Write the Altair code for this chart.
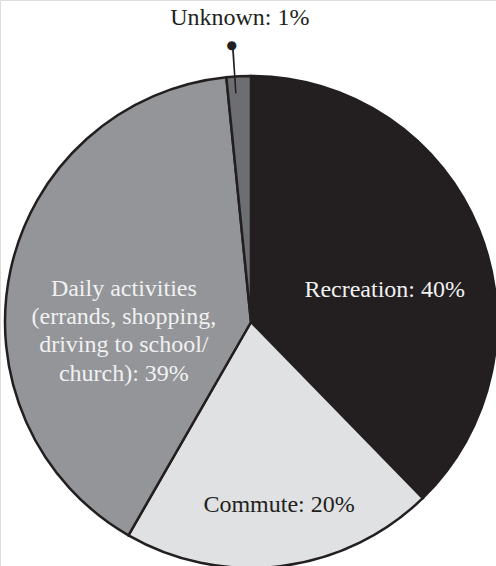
import altair as alt
import pandas as pd

# ---- data ----
categories = ["Recreation", "Commute", "Daily activities", "Unknown"]
shares = [37.7, 20.6, 40.1, 1.6]          # slice sizes as drawn (percent of circle)
labels = [
    "Recreation: 40%",
    "Commute: 20%",
    "Daily activities\n(errands, shopping,\ndriving to school/\nchurch): 39%",
    "Unknown: 1%",
]
fill_colors = ["#231f20", "#e0e1e3", "#939598", "#6d6e71"]

df = pd.DataFrame({
    "category": categories,
    "share": shares,
    "label": labels,
    "order": list(range(len(categories))),
})

theta_scale = alt.Scale(domain=[0, 100])
center = dict(x=alt.value(251), y=alt.value(322))

base = (
    alt.Chart(df)
    .transform_window(cum="sum(share)", sort=[alt.SortField("order")], frame=[None, 0])
    .transform_calculate(
        start="datum.cum - datum.share",
        mid="datum.cum - datum.share / 2",
        lead="datum.cum - datum.share * 0.69",
        lead2="datum.cum - datum.share * 0.625",
    )
)

arcs = base.mark_arc(radius=246, stroke="#231f20", strokeWidth=2.5).encode(
    theta=alt.Theta("start:Q", scale=theta_scale),
    theta2="cum:Q",
    color=alt.Color("category:N", scale=alt.Scale(domain=categories, range=fill_colors), legend=None),
    **center,
)


def label_layer(cat, r, dx, dy, color):
    return base.transform_filter(alt.datum.category == cat).mark_text(
        radius=r, dx=dx, dy=dy, font="Liberation Serif", fontSize=24,
        lineHeight=28.3, lineBreak="\n", align="center", baseline="middle", color=color,
    ).encode(
        theta=alt.Theta("mid:Q", scale=theta_scale),
        text="label:N",
        **center,
    )


lab_rec = label_layer("Recreation", 140, 4, 21, "#f1f1f2")
lab_com = label_layer("Commute", 184, 5, 0, "#231f20")
lab_day = label_layer("Daily activities", 130, 0, -6, "#f1f1f2")
lab_unk = label_layer("Unknown", 302, 4, -2, "#231f20")

unk = base.transform_filter(alt.datum.category == "Unknown")

leader = unk.mark_arc(radius=278, radius2=229, color="#231f20").encode(
    theta=alt.Theta("lead:Q", scale=theta_scale),
    theta2="lead2:Q",
    **center,
)

dot = unk.mark_text(
    text="●", radius=278, font="DejaVu Sans", fontSize=12,
    align="center", baseline="middle", color="#231f20",
).encode(
    theta=alt.Theta("lead:Q", scale=theta_scale),
    **center,
)

chart = (
    alt.layer(arcs, lab_rec, lab_com, lab_day, lab_unk, leader, dot)
    .properties(width=496, height=566, padding=0, autosize=alt.AutoSizeParams(type="none"))
    .configure_view(stroke=None)
    .configure(background="white")
)

chart.save("out.html", embed_options={"renderer": "svg", "actions": False})
